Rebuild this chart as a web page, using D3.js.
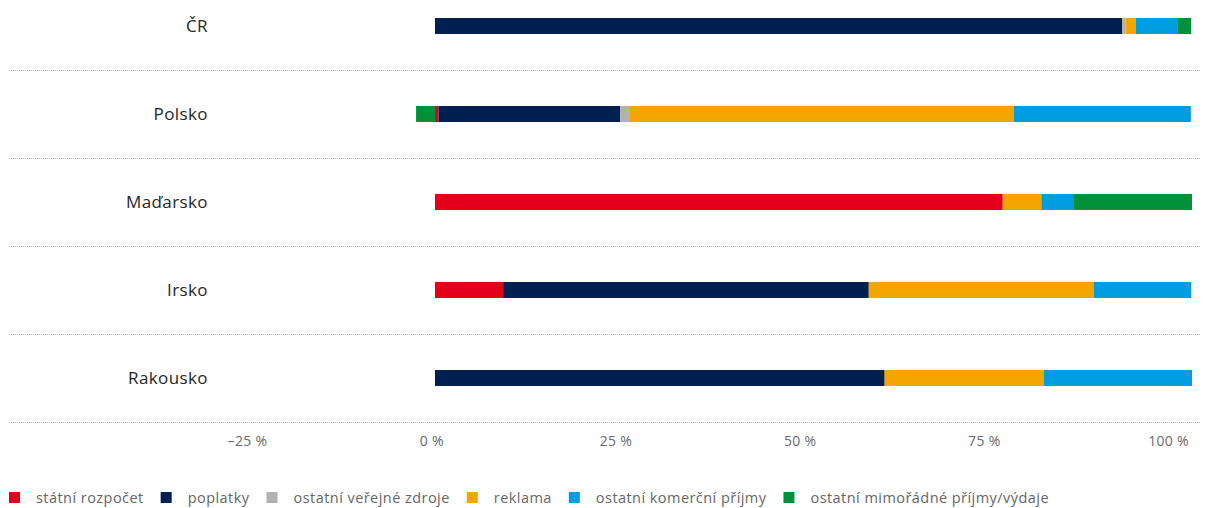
<!DOCTYPE html>
<html>
<head>
<meta charset="utf-8">
<script src="https://cdn.jsdelivr.net/npm/d3@7"></script>
<style>
  html, body { margin: 0; padding: 0; background: #fff; }
  svg { display: block; font-family: "Open Sans", "Noto Sans", sans-serif; }
</style>
</head>
<body>
<svg id="chart" width="1210" height="508"></svg>
<script>
// ---- data ----
const countries = ["ČR", "Polsko", "Maďarsko", "Irsko", "Rakousko"];
const seriesNames = ["státní rozpočet", "poplatky", "ostatní veřejné zdroje", "reklama", "ostatní komerční příjmy", "ostatní mimořádné příjmy/výdaje"];
const seriesColors = ["#e2001a", "#002052", "#b2b2b2", "#f5a500", "#009ee0", "#00913a"];
const statniRozpocet = [0, 0.45, 75.0, 9.0, 0];
const poplatky = [90.8, 24.0, 0, 48.3, 59.4];
const ostatniVerejne = [0.45, 1.3, 0, 0, 0];
const reklama = [1.3, 50.7, 5.1, 29.7, 21.0];
const ostatniKomercni = [5.5, 23.4, 4.2, 12.9, 19.6];
const mimoradne = [1.85, -2.5, 15.7, 0, 0];
const tickValues = [-25, 0, 25, 50, 75, 100];

const seriesValues = [statniRozpocet, poplatky, ostatniVerejne, reklama, ostatniKomercni, mimoradne];
const table = countries.map((c, i) => {
  const row = { country: c };
  seriesNames.forEach((s, j) => row[s] = seriesValues[j][i]);
  return row;
});

const svg = d3.select("#chart");

const x = d3.scaleLinear().domain([0, 100]).range([435, 1192]);
const y = d3.scaleBand().domain(countries).range([-18, 422]);
const labelScale = d3.scaleLinear().domain([-25, 100]).range([247, 1168]);
const color = d3.scaleOrdinal().domain(seriesNames).range(seriesColors);

// separators
svg.append("g").selectAll("line")
  .data(countries)
  .join("line")
  .attr("x1", 9).attr("x2", 1201)
  .attr("y1", d => y(d) + y.bandwidth() + 0.5)
  .attr("y2", d => y(d) + y.bandwidth() + 0.5)
  .attr("stroke", "#b4b4b4")
  .attr("stroke-width", 1)
  .attr("stroke-dasharray", "1,1");

// stacked bars
const stack = d3.stack().keys(seriesNames).offset(d3.stackOffsetDiverging);
const stacked = stack(table);
const barH = 16;
svg.append("g").selectAll("g")
  .data(stacked)
  .join("g")
  .attr("fill", d => color(d.key))
  .selectAll("rect")
  .data(d => d)
  .join("rect")
  .attr("x", d => x(Math.min(d[0], d[1])))
  .attr("width", d => Math.abs(x(d[1]) - x(d[0])))
  .attr("y", d => y(d.data.country) + y.bandwidth() / 2 - barH / 2)
  .attr("height", barH);

// category labels
svg.append("g").selectAll("text")
  .data(countries)
  .join("text")
  .attr("x", 208)
  .attr("y", d => y(d) + y.bandwidth() / 2)
  .attr("dy", "0.35em")
  .attr("text-anchor", "end")
  .attr("font-size", 17)
  .attr("letter-spacing", "0.4px")
  .attr("fill", "#262626")
  .text(d => d);

// x axis labels
const axis = d3.axisBottom(labelScale)
  .tickValues(tickValues)
  .tickSize(0)
  .tickFormat(d => (d < 0 ? "–" : "") + Math.abs(d) + " %");
const ax = svg.append("g").attr("transform", "translate(0,433)").call(axis);
ax.select(".domain").remove();
ax.selectAll("text").attr("font-size", 14).attr("fill", "#6a6a6a")
  .attr("letter-spacing", "0.3px")
  .attr("font-family", "\"Open Sans\", sans-serif");

// legend
const legend = svg.append("g");
let lx = 9;
seriesNames.forEach((s, i) => {
  legend.append("rect")
    .attr("x", lx).attr("y", 492).attr("width", 11).attr("height", 11)
    .attr("fill", color(s));
  const t = legend.append("text")
    .attr("x", lx + 27).attr("y", 498).attr("dy", "0.35em")
    .attr("font-size", 14.5).attr("fill", "#666")
    .attr("letter-spacing", "0.45px")
    .text(s);
  lx = lx + 27 + t.node().getComputedTextLength() + 17;
});
</script>
</body>
</html>
